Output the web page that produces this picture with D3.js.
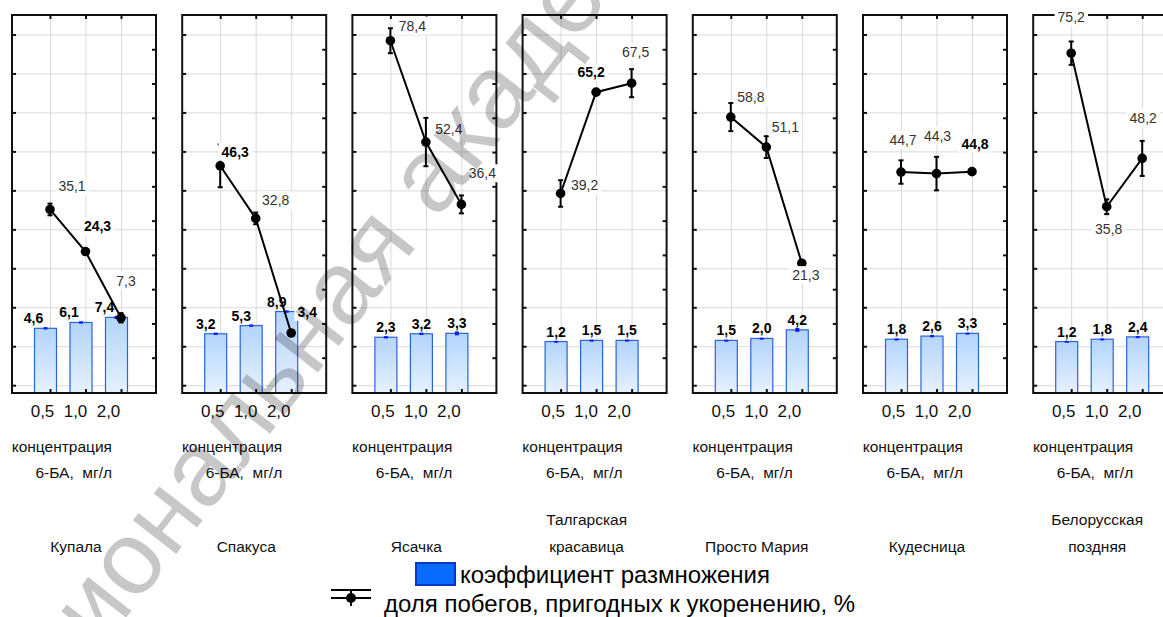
<!DOCTYPE html>
<html lang="ru">
<head>
<meta charset="UTF-8">
<title>Коэффициент размножения и доля побегов</title>
<style>
  html, body { margin: 0; padding: 0; background: #fff; }
  svg { display: block; font-family: 'Liberation Sans', Arial, sans-serif; }
</style>
</head>
<body>
<svg id="chart" width="1163" height="617"></svg>
<script src="https://d3js.org/d3.v7.min.js"></script>
<script>
// data
const varieties = [["Купала"], ["Спакуса"], ["Ясачка"], ["Талгарская", "красавица"],
                   ["Просто Мария"], ["Кудесница"], ["Белорусская", "поздняя"]];
const concentrations = ["0,5", "1,0", "2,0"];
const multCoef = [[4.6, 6.1, 7.4], [3.2, 5.3, 8.9], [2.3, 3.2, 3.3], [1.2, 1.5, 1.5],
                  [1.5, 2.0, 4.2], [1.8, 2.6, 3.3], [1.2, 1.8, 2.4]];
const multErr = [[0.3, 0.3, 0.4], [0.3, 0.3, 0.3], [0.3, 0.3, 0.5], [0.2, 0.2, 0.2],
                 [0.2, 0.2, 0.5], [0.2, 0.3, 0.2], [0.2, 0.2, 0.2]];
const shootShare = [[35.1, 24.3, 7.3], [46.3, 32.8, 3.4], [78.4, 52.4, 36.4], [39.2, 65.2, 67.5],
                    [58.8, 51.1, 21.3], [44.7, 44.3, 44.8], [75.2, 35.8, 48.2]];
const shootErr = [[1.5, 0, 1.2], [5.5, 1.5, 0], [3.2, 6.2, 2.3], [3.4, 0, 3.6],
                  [3.6, 2.8, 0.6], [3.0, 4.3, 0], [3.0, 1.9, 4.5]];

// label layout (offsets from the point, bold flags)
const lineLabelShift = [[[22, -23], [12, -25], [5, -37]], [[15, -14], [20, -18], [16, -21]],
                        [[22, -15], [23, -13], [21, -31]], [[24, -8], [-5, -20], [4, -31]],
                        [[20, -20], [19, -20], [4, 12]], [[2, -32], [1, -38], [3, -28]],
                        [[0, -36], [2, 22], [1, -40]]];
const lineLabelBold = [[0, 1, 0], [1, 0, 1], [0, 0, 0], [0, 1, 0], [0, 0, 0], [0, 0, 1], [0, 0, 0]];
const barLabelShift = [-12, -10, 0, 0, 0, 0, 0];

const panelLeft = 12, panelStep = 170.2, panelW = 144;
const plotTop = 15, plotBottom = 393;

const svg = d3.select("#chart");

const grad = svg.append("defs").append("linearGradient")
  .attr("id", "barFill").attr("x1", 0).attr("y1", 0).attr("x2", 0).attr("y2", 1);
grad.append("stop").attr("offset", "0%").attr("stop-color", "#b3d4fb");
grad.append("stop").attr("offset", "100%").attr("stop-color", "#e6f1fe");

const y = d3.scaleLinear().domain([-12, 85]).range([plotBottom, plotTop]);
const yRight = d3.scaleLinear().domain([-1.03, 10]).range([plotBottom, plotTop]);
const x = d3.scalePoint().domain(concentrations).range([38, 109]);
const xLabel = d3.scalePoint().domain(concentrations).range([30, 96]);
const barW = 22, barOff = -4.5;

const line = d3.line().x(d => x(d.c)).y(d => y(d.v));

varieties.forEach((name, p) => {
  const g = svg.append("g").attr("transform", `translate(${panelLeft + p * panelStep},0)`);

  // gridlines
  g.append("g")
    .call(d3.axisLeft(y).tickValues(d3.range(-10, 90, 10)).tickSize(-panelW).tickFormat(""))
    .call(a => a.select(".domain").remove())
    .call(a => a.selectAll("line").attr("stroke", "#d9d9d9"));
  g.append("g").attr("transform", `translate(0,${plotBottom})`)
    .call(d3.axisBottom(x).tickSize(-(plotBottom - plotTop)).tickFormat(""))
    .call(a => a.select(".domain").remove())
    .call(a => a.selectAll("line").attr("stroke", "#d9d9d9"));

  // bars
  const bars = concentrations.map((c, i) => ({c, v: multCoef[p][i], e: multErr[p][i]}));
  g.selectAll("rect.bar").data(bars).enter().append("rect")
    .attr("class", "bar")
    .attr("x", d => x(d.c) + barOff - barW / 2)
    .attr("y", d => y(d.v))
    .attr("width", barW)
    .attr("height", d => plotBottom - y(d.v))
    .attr("fill", "url(#barFill)")
    .attr("stroke", "#2b63d9")
    .attr("stroke-width", 1.2);
  g.selectAll("rect.berr").data(bars).enter().append("rect")
    .attr("class", "berr")
    .attr("x", d => x(d.c) + barOff - 2)
    .attr("y", d => y(d.v + d.e))
    .attr("width", 4)
    .attr("height", d => Math.max(2, y(d.v - d.e) - y(d.v + d.e)))
    .attr("fill", "#0a1aff");

  // line with error bars
  const pts = concentrations.map((c, i) => ({c, i, v: shootShare[p][i], e: shootErr[p][i]}));
  g.append("path").datum(pts).attr("d", line)
    .attr("fill", "none").attr("stroke", "#000").attr("stroke-width", 2);
  const eb = g.selectAll("g.err").data(pts.filter(d => d.e > 0)).enter().append("g")
    .attr("stroke", "#000").attr("stroke-width", 2);
  eb.append("line").attr("x1", d => x(d.c)).attr("x2", d => x(d.c))
    .attr("y1", d => y(d.v - d.e)).attr("y2", d => y(d.v + d.e));
  eb.append("line").attr("x1", d => x(d.c) - 2.5).attr("x2", d => x(d.c) + 2.5)
    .attr("y1", d => y(d.v + d.e)).attr("y2", d => y(d.v + d.e));
  eb.append("line").attr("x1", d => x(d.c) - 2.5).attr("x2", d => x(d.c) + 2.5)
    .attr("y1", d => y(d.v - d.e)).attr("y2", d => y(d.v - d.e));
  g.selectAll("circle.pt").data(pts).enter().append("circle")
    .attr("cx", d => x(d.c)).attr("cy", d => y(d.v)).attr("r", 4.8).attr("fill", "#000");

  // frame and ticks
  g.append("rect").attr("x", 0).attr("y", plotTop).attr("width", panelW)
    .attr("height", plotBottom - plotTop).attr("fill", "none")
    .attr("stroke", "#111").attr("stroke-width", 2);
  g.append("g")
    .call(d3.axisLeft(y).tickValues(d3.range(-10, 90, 10)).tickSize(-4).tickFormat(""))
    .call(a => a.select(".domain").remove())
    .call(a => a.selectAll("line").attr("stroke", "#111").attr("stroke-width", 2));
  g.append("g").attr("transform", `translate(${panelW},0)`)
    .call(d3.axisRight(yRight).tickValues(d3.range(0, 10)).tickSize(-4).tickFormat(""))
    .call(a => a.select(".domain").remove())
    .call(a => a.selectAll("line").attr("stroke", "#111").attr("stroke-width", 2));
  g.append("g").attr("transform", `translate(0,${plotBottom})`)
    .call(d3.axisBottom(x).tickSize(-4).tickFormat(""))
    .call(a => a.select(".domain").remove())
    .call(a => a.selectAll("line").attr("stroke", "#111").attr("stroke-width", 2));
  g.append("g").attr("transform", `translate(0,${plotTop})`)
    .call(d3.axisTop(x).tickSize(-4).tickFormat(""))
    .call(a => a.select(".domain").remove())
    .call(a => a.selectAll("line").attr("stroke", "#111").attr("stroke-width", 2));

  // x tick labels
  g.append("g").attr("transform", `translate(0,${plotBottom})`)
    .call(d3.axisBottom(xLabel).tickSize(0).tickPadding(12))
    .call(a => a.select(".domain").remove())
    .call(a => a.selectAll("text").attr("font-size", 17).attr("fill", "#111")
      .attr("font-family", "'Liberation Sans', Arial, sans-serif"));

  // bar value labels
  g.selectAll("text.blab").data(bars).enter().append("text")
    .attr("x", d => x(d.c) + barOff + barLabelShift[p])
    .attr("y", d => y(d.v) - 5)
    .attr("text-anchor", "middle").attr("font-size", 14).attr("font-weight", "bold")
    .text(d => d.v.toFixed(1).replace(".", ","));

  // line value labels
  const lab = g.selectAll("g.llab").data(pts).enter().append("g")
    .attr("transform", d => `translate(${x(d.c) + lineLabelShift[p][d.i][0]},${y(d.v) + lineLabelShift[p][d.i][1]})`);
  lab.append("text")
    .attr("text-anchor", "middle").attr("dy", "0.35em").attr("font-size", 14)
    .attr("font-weight", d => lineLabelBold[p][d.i] ? "bold" : "normal")
    .attr("fill", d => lineLabelBold[p][d.i] ? "#000" : "#333")
    .text(d => d.v.toFixed(1).replace(".", ","));
  lab.each(function() {
    const b = d3.select(this).select("text").node().getBBox();
    d3.select(this).insert("rect", "text")
      .attr("x", b.x - 3).attr("y", b.y - 1).attr("width", b.width + 6).attr("height", b.height + 2)
      .attr("fill", "#fff");
  });

  // axis title and variety name
  const t = g.append("g").attr("font-size", 15.5).attr("fill", "#111");
  t.append("text").attr("x", 100).attr("y", 452).attr("text-anchor", "end").text("концентрация");
  t.append("text").attr("x", 100).attr("y", 478).attr("text-anchor", "end").text("6-БА,  мг/л")
    .style("white-space", "pre");
  name.forEach((s, k) => {
    t.append("text").attr("x", 64).attr("y", 552 - (name.length - 1 - k) * 27)
      .attr("text-anchor", "middle").text(s);
  });
});

// legend
const leg = svg.append("g");
leg.append("rect").attr("x", 416).attr("y", 563).attr("width", 39).attr("height", 22)
  .attr("fill", "#0a6cff").attr("stroke", "#0638c4").attr("stroke-width", 2);
leg.append("text").attr("x", 460).attr("y", 583).attr("font-size", 24).text("коэффициент размножения");
const ls = leg.append("g").attr("stroke", "#000").attr("stroke-width", 2);
ls.append("line").attr("x1", 331).attr("x2", 371).attr("y1", 590).attr("y2", 590);
ls.append("line").attr("x1", 331).attr("x2", 371).attr("y1", 598).attr("y2", 598);
ls.append("line").attr("x1", 351).attr("x2", 351).attr("y1", 590).attr("y2", 606);
leg.append("circle").attr("cx", 351).attr("cy", 598).attr("r", 5).attr("fill", "#000");
leg.append("text").attr("x", 384).attr("y", 612).attr("font-size", 24)
  .text("доля побегов, пригодных к укоренению, %");

// watermark
svg.append("text")
  .attr("transform", "translate(325,305) rotate(-52)")
  .attr("text-anchor", "middle").attr("dominant-baseline", "central")
  .attr("font-size", 104).attr("fill", "#000").attr("fill-opacity", 0.22)
  .text("Национальная академия");
</script>
</body>
</html>
